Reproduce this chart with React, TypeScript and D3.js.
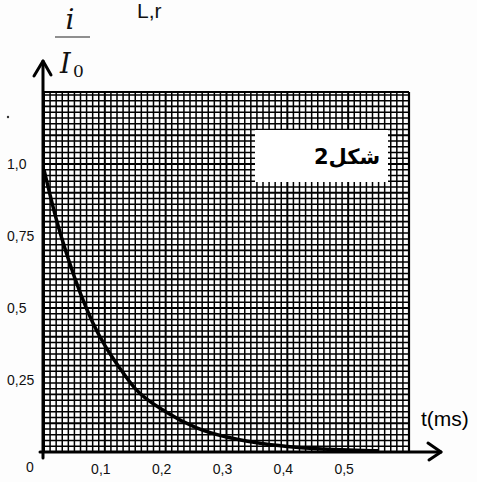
import React from "react";
import * as d3 from "d3";

const timeMs = [0, 0.02, 0.04, 0.06, 0.08, 0.1, 0.125, 0.15, 0.2, 0.25, 0.3, 0.35, 0.4, 0.45, 0.5, 0.55];
const ratio = [0.98, 0.81, 0.67, 0.55, 0.45, 0.37, 0.29, 0.22, 0.14, 0.085, 0.052, 0.032, 0.019, 0.011, 0.007, 0.004];
const xTicks = [0.1, 0.2, 0.3, 0.4, 0.5];
const xTickLabels = ["0,1", "0,2", "0,3", "0,4", "0,5"];
const yTicks = [0.25, 0.5, 0.75, 1.0];
const yTickLabels = ["0,25", "0,5", "0,75", "1,0"];

const W = 477, H = 482;
const x0 = 44, x1 = 409, yB = 452, yT = 92;

export default function App() {
  const x = d3.scaleLinear().domain([0, 0.6]).range([x0, x1]);
  const y = d3.scaleLinear().domain([0, 1.25]).range([yB, yT]);
  const vLines = d3.range(0, 61).map((i) => i / 100);
  const hLines = d3.range(0, 63).map((i) => i * 0.02);
  const line = d3
    .line<number>()
    .x((_, i) => x(timeMs[i]))
    .y((d) => y(d))
    .curve(d3.curveMonotoneX);
  const sans = "'Liberation Sans', Arial, sans-serif";
  return (
    <svg width={W} height={H} style={{ position: "absolute", left: 0, top: 0, background: "#fff" }}>
      <rect x={0} y={0} width={W} height={H} fill="#fdfdfd" />
      {/* grid */}
      <g stroke="#000">
        {vLines.map((t, i) => (
          <line key={"v" + i} x1={x(t)} x2={x(t)} y1={yT} y2={yB} strokeWidth={i % 10 === 0 ? 2 : 1.5} />
        ))}
        {hLines.map((v, i) => (
          <line key={"h" + i} x1={x0} x2={x1} y1={y(v)} y2={y(v)} strokeWidth={i % 5 === 0 ? 1.9 : 1.5} />
        ))}
        <line x1={x0} x2={x1} y1={yT} y2={yT} strokeWidth={2.2} />
        <line x1={x1} x2={x1} y1={yT} y2={yB} strokeWidth={2.2} />
      </g>
      {/* label box */}
      <rect x={255} y={130} width={133} height={52} fill="#fff" />
      <text x={347} y={164} textAnchor="middle" fontFamily="'DejaVu Sans', sans-serif" fontWeight="bold" fontSize={21} fill="#000">
        شكل2
      </text>
      {/* curve */}
      <path d={line(ratio) || ""} fill="none" stroke="#000" strokeWidth={3.5} />
      {/* axes */}
      <g stroke="#000" strokeWidth={3} fill="none" strokeLinecap="round" strokeLinejoin="round">
        <line x1={43} x2={43} y1={458} y2={61} />
        <polyline points="34,76 43,61 51,75" />
        <line x1={40} x2={441} y1={yB} y2={yB} />
        <polyline points="428,443 441,452 429,460" />
      </g>
      {/* labels */}
      <g fontFamily={sans} fontSize={14} fill="#111">
        {yTicks.map((v, i) => (
          <text key={i} x={7} y={y(v) + 5}>
            {yTickLabels[i]}
          </text>
        ))}
        <text x={26} y={472}>0</text>
        {xTicks.map((t, i) => (
          <text key={"x" + i} x={x(t) - 4} y={474} textAnchor="middle">
            {xTickLabels[i]}
          </text>
        ))}
      </g>
      <text x={421} y={426} fontFamily={sans} fontSize={21} fill="#000">t(ms)</text>
      {/* y axis title */}
      <text x={70} y={29} textAnchor="middle" fontFamily="'DejaVu Serif', serif" fontStyle="italic" fontSize={28} fill="#111">i</text>
      <line x1={55} x2={90} y1={37} y2={37} stroke="#222" strokeWidth={1.2} />
      <text x={60} y={73} fontFamily="'DejaVu Serif', serif" fontStyle="italic" fontSize={27} fill="#111">I</text>
      <text x={73} y={77} fontFamily="'DejaVu Serif', serif" fontSize={17} fill="#111">0</text>
      <text x={137} y={18} fontFamily={sans} fontSize={21} fill="#111">L,r</text>
      <circle cx={8} cy={117} r={1.2} fill="#333" />
    </svg>
  );
}
